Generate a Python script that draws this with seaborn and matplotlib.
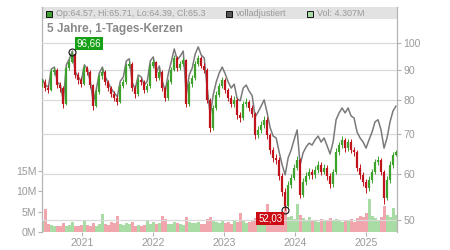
import numpy as np
import pandas as pd
import matplotlib
matplotlib.use("Agg")
import matplotlib.pyplot as plt
from matplotlib.patches import Rectangle
from matplotlib.ticker import FixedLocator, NullLocator
import seaborn as sns

# ---- data ----
closes = [
    85.9, 83.9, 83.3, 89.4, 90.1, 84.9, 83.9, 78.8, 90.8, 93.0, 95.9, 88.3, 86.6, 85.2, 90.8, 89.4, 84.9, 78.2, 82.6, 87.9,
    89.4, 85.9, 83.9, 82.0, 80.8, 79.5, 84.6, 85.9, 91.5, 92.2, 83.9, 82.0, 86.6, 85.9, 83.3, 84.6, 91.5, 93.0, 87.3,
    89.4, 83.9, 80.8, 85.9, 90.1, 94.4, 90.8, 92.2, 93.7, 78.8, 85.2, 87.3, 92.2, 94.4, 91.5, 90.1, 80.1, 71.8, 77.6,
    81.7, 84.6, 86.6, 83.3, 80.8, 78.8, 80.1, 75.5, 74.6, 78.8, 79.5, 77.6, 75.8, 69.8, 71.2, 72.6, 74.1, 69.8, 65.8, 63.8,
    63.3, 59.5, 55.9, 52.9, 57.4, 59.0, 61.4, 63.3, 55.2, 58.1, 59.5, 60.4, 59.7, 60.9, 62.1, 60.4, 61.4, 59.5, 57.6,
    60.4, 65.3, 67.1, 68.5, 66.3, 68.0, 65.8, 65.3, 61.4, 59.7, 58.1, 56.7, 58.5, 60.4, 62.8, 63.3, 60.4, 54.5, 58.5, 62.1, 64.6, 65.3,
]
highs = [
    87.0, 86.8, 84.8, 90.4, 91.2, 90.8, 85.8, 84.6, 91.6, 94.0, 96.66, 96.2, 89.2, 87.6, 91.8, 91.6, 90.0, 85.4, 83.6, 88.8,
    90.6, 90.0, 86.6, 84.6, 82.8, 81.6, 85.4, 86.8, 92.4, 93.2, 92.8, 84.8, 87.6, 87.4, 86.6, 85.6, 92.4, 94.0, 93.4,
    90.4, 90.0, 84.6, 86.8, 91.0, 95.4, 95.0, 93.2, 94.8, 94.0, 86.2, 88.4, 93.2, 95.6, 95.0, 92.4, 90.6, 80.8, 78.6,
    82.8, 85.6, 87.6, 87.2, 84.0, 81.6, 81.2, 80.8, 76.4, 79.8, 80.6, 80.2, 78.4, 76.4, 72.2, 73.6, 75.2, 74.8, 70.4, 66.6,
    64.8, 64.0, 60.2, 56.6, 58.2, 60.0, 62.4, 64.4, 63.8, 59.0, 60.4, 61.4, 61.2, 61.8, 63.0, 62.8, 62.4, 62.0, 60.2,
    61.2, 66.2, 68.0, 69.4, 69.0, 68.8, 68.6, 66.6, 65.8, 62.2, 60.4, 58.8, 59.4, 61.2, 63.6, 64.2, 63.8, 60.8, 59.4, 63.0, 65.4, 65.71,
]
lows = [
    84.2, 83.0, 82.2, 82.8, 88.2, 84.0, 82.6, 77.6, 78.4, 90.0, 92.4, 87.4, 85.4, 84.2, 84.8, 88.2, 83.8, 77.0, 77.8, 82.0,
    87.0, 85.0, 83.0, 81.0, 79.8, 78.5, 79.0, 83.8, 85.2, 90.6, 82.8, 80.8, 81.4, 84.8, 82.4, 82.6, 84.0, 90.6, 86.4,
    86.6, 83.0, 79.6, 80.2, 85.2, 89.6, 89.8, 90.0, 91.4, 77.8, 78.2, 84.4, 86.6, 91.4, 90.6, 89.0, 79.0, 70.6, 71.2,
    77.0, 81.0, 83.8, 82.4, 79.8, 77.8, 78.0, 74.4, 73.4, 74.0, 78.0, 76.6, 74.8, 68.6, 69.0, 70.4, 71.8, 68.8, 64.8, 62.8,
    62.4, 58.6, 55.0, 52.03, 52.6, 56.6, 58.4, 60.8, 54.6, 54.8, 57.4, 58.8, 58.8, 59.0, 60.2, 59.6, 59.8, 58.6, 56.8,
    57.0, 59.8, 64.6, 66.4, 65.4, 65.6, 65.0, 64.4, 60.6, 58.8, 57.2, 55.6, 56.0, 57.8, 59.8, 62.0, 59.6, 53.2, 54.0, 57.8, 61.4, 64.39,
]
adjusted = [
    86.9, 84.9, 84.2, 90.4, 91.1, 85.9, 84.9, 79.8, 91.9, 94.1, 97.0, 89.4, 87.6, 86.2, 91.9, 90.4, 85.9, 79.2, 83.6, 89.0,
    91.1, 87.6, 85.6, 83.6, 82.3, 81.1, 86.2, 87.6, 93.3, 94.1, 85.6, 83.6, 88.3, 87.6, 84.9, 86.2, 93.3, 94.8, 89.0,
    91.5, 86.2, 82.9, 88.7, 93.0, 97.8, 93.7, 95.1, 97.0, 81.7, 88.3, 90.8, 95.9, 98.6, 95.5, 94.4, 83.9, 75.5, 81.7,
    85.9, 89.0, 91.1, 88.7, 85.9, 83.9, 85.2, 80.4, 79.8, 83.9, 84.9, 82.9, 81.4, 74.9, 76.4, 78.2, 80.1, 76.1, 71.8, 69.5,
    69.0, 65.3, 62.1, 59.7, 63.8, 65.8, 68.5, 71.2, 62.1, 65.1, 66.6, 67.6, 67.1, 68.5, 69.5, 67.9, 69.0, 66.9, 64.8,
    67.9, 74.1, 76.1, 77.6, 76.1, 77.6, 75.2, 74.6, 70.6, 69.0, 67.9, 66.3, 68.5, 70.6, 73.5, 74.1, 71.2, 66.3, 69.0, 73.5, 76.7, 78.2,
]
volume_m = [
    2.6, 5.6, 2.0, 1.8, 1.5, 1.4, 1.6, 2.2, 1.5, 1.8, 2.4, 1.6, 1.5, 1.8, 2.6, 1.7, 1.6, 2.2, 1.6, 1.9,
    4.5, 2.0, 1.8, 2.4, 2.2, 4.0, 2.0, 1.7, 2.2, 1.9, 2.5, 1.6, 1.8, 1.5, 1.7, 2.8, 2.0, 2.5, 1.9,
    2.2, 3.9, 3.2, 2.0, 1.9, 2.4, 2.1, 2.0, 1.8, 3.8, 2.4, 2.2, 2.1, 2.4, 1.9, 2.0, 3.2, 3.6, 2.8,
    2.4, 2.2, 2.6, 2.1, 2.4, 2.0, 3.0, 2.4, 4.6, 2.6, 2.2, 2.4, 2.8, 3.4, 2.4, 2.6, 3.2, 7.0, 3.0, 3.4,
    4.8, 3.8, 4.4, 6.4, 3.6, 4.0, 3.2, 6.8, 4.2, 3.4, 2.6, 3.6, 2.8, 3.0, 2.4, 3.2, 2.6, 2.8, 3.4,
    3.0, 3.2, 2.6, 2.4, 2.8, 2.6, 3.2, 2.4, 3.4, 4.0, 3.6, 4.6, 8.2, 4.0, 3.4, 3.0, 3.6, 6.4, 4.2, 3.8, 5.8, 4.3,
]
first_open = 85.0
hi_label = 96.66
lo_label = 52.03
price_ticks = [50, 60, 70, 80, 90, 100]
vol_ticks = [0, 5, 10, 15]
vol_tick_labels = ["0M", "5M", "10M", "15M"]
year_labels = ["2021", "2022", "2023", "2024", "2025"]
title = "5 Jahre, 1-Tages-Kerzen"
legend_ohlc = "Op:64.57, Hi:65.71, Lo:64.39, Cl:65.3"
legend_adj = "volladjustiert"
legend_vol = "Vol: 4.307M"

# ---- style ----
sns.set_theme(style="white")
plt.rcParams['font.family'] = ['Liberation Sans', 'DejaVu Sans']

GREEN = "#3ca22c"
RED = "#c0141c"
VGREEN = "#a9dca4"
VRED = "#f1a6ae"
GRID = "#d9d9d9"
TXT = "#9a9a9a"
SPINE = "#b4b4b4"

dates = pd.date_range("2020-06-10", "2025-06-03", periods=len(closes))
opens = [first_open] + closes[:-1]
df = pd.DataFrame({"date": dates, "open": opens, "close": closes, "high": highs,
                   "low": lows, "adj": adjusted, "vol": volume_m})
df["up"] = df["close"] >= df["open"]
df["blo"] = df[["open", "close"]].min(axis=1)
df["bhi"] = df[["open", "close"]].max(axis=1)
ccol = [GREEN if u else RED for u in df["up"]]

W, H = 450, 250
fig = plt.figure(figsize=(W / 100, H / 100), dpi=100)
L, R, T, B = 42, 397, 7, 232
axv = fig.add_axes([L / W, 1 - B / H, (R - L) / W, (B - T) / H])
axp = axv.twinx()

# header band
axv.add_patch(Rectangle((0, (B - 19) / (B - T)), 1, 1 - (B - 19) / (B - T),
                        transform=axv.transAxes, color="#e2e2e2", zorder=0, lw=0))

# volume bars
axv.bar(df["date"], df["vol"], width=15.4,
        color=[VGREEN if u else VRED for u in df["up"]], linewidth=0, zorder=1)
axv.set_ylim(0, (B - T) / 4.06)
axv.yaxis.set_major_locator(FixedLocator(vol_ticks))
axv.set_yticklabels(vol_tick_labels)
axv.tick_params(axis="y", left=True, length=3, width=0.8, color=SPINE,
                labelsize=7.6, labelcolor=TXT, pad=1)

# price axis (log)
axp.set_yscale("log")
axp.set_ylim(100 * np.exp((43.3 - B) / 255), 100 * np.exp((43.3 - T) / 255))
axp.yaxis.set_major_locator(FixedLocator(price_ticks))
axp.yaxis.set_minor_locator(NullLocator())
axp.set_yticklabels([str(t) for t in price_ticks])
axp.tick_params(axis="y", right=True, length=3, width=0.8, color=SPINE,
                labelsize=7.6, labelcolor=TXT, pad=1.5)
axp.grid(True, axis="both", color=GRID, lw=0.9)

sns.lineplot(data=df, x="date", y="adj", ax=axp, color="#7a7a7a", lw=1.1, zorder=2)
axp.vlines(df["date"], df["low"], df["high"], colors=ccol, lw=0.7, zorder=3)
axp.vlines(df["date"], df["blo"], df["bhi"], colors=ccol, lw=1.6, zorder=3)
axp.set_xlabel("")
axp.set_ylabel("")
axv.set_xlabel("")

# hi / lo markers
i_hi = int(np.argmax(highs))
i_lo = int(np.argmin(lows))
axp.plot([dates[i_hi]], [hi_label], marker="o", ms=5, mfc="none", mec="#111", mew=0.8, zorder=5)
axp.plot([dates[i_lo]], [lo_label], marker="o", ms=5, mfc="none", mec="#111", mew=0.8, zorder=5)
axp.annotate(f"{hi_label:.2f}".replace(".", ","), xy=(dates[i_hi], hi_label),
             xytext=(3, 2.5), textcoords="offset points", ha="left", va="bottom",
             color="white", fontsize=7, zorder=6,
             bbox=dict(boxstyle="square,pad=0.18", fc="#16a016", ec="none"))
axp.annotate(f"{lo_label:.2f}".replace(".", ","), xy=(dates[i_lo], lo_label),
             xytext=(-2, -2.5), textcoords="offset points", ha="right", va="top",
             color="white", fontsize=7, zorder=6,
             bbox=dict(boxstyle="square,pad=0.18", fc="#cc0a14", ec="none"))

# x axis
xt = pd.to_datetime([f"{y}-01-01" for y in year_labels])
axv.set_xlim(pd.Timestamp("2020-06-08"), pd.Timestamp("2025-06-08"))
axv.set_xticks(xt)
axv.set_xticklabels(year_labels)
axv.tick_params(axis="x", bottom=True, length=3, width=0.8, color=SPINE,
                labelsize=7.6, labelcolor=TXT, pad=1)

for ax in (axv, axp):
    for s in ("top", "bottom"):
        ax.spines[s].set_visible(False)
axv.spines["left"].set_color(SPINE)
axv.spines["left"].set_linewidth(0.9)
axv.spines["right"].set_visible(False)
axp.spines["left"].set_visible(False)
axp.spines["right"].set_color(SPINE)
axp.spines["right"].set_linewidth(0.9)

# header legend
def fx(px):
    return px / W

def fy(py):
    return 1 - py / H

for x0, fc, txt in [(46, GREEN, legend_ohlc), (226, "#555555", legend_adj), (307, VGREEN, legend_vol)]:
    fig.patches.append(Rectangle((fx(x0), fy(17)), 6 / W, 6 / H, transform=fig.transFigure,
                                 fc=fc, ec="#111", lw=0.7, zorder=10))
    fig.text(fx(x0 + 10), fy(13.5), txt, fontsize=6.5, color=TXT, va="center", ha="left")

fig.text(fx(47), fy(29), title, fontsize=8.6, fontweight="bold", color="#8a8a8a",
         va="center", ha="left")

fig.savefig("out.png", dpi=100)
